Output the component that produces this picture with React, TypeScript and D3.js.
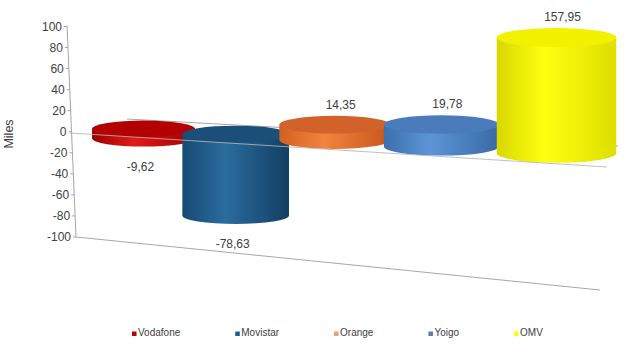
import React, { useEffect, useRef } from "react";
import * as d3 from "d3";

// ---- data ----
const categories = ["Vodafone", "Movistar", "Orange", "Yoigo", "OMV"];
const values = [-9.62, -78.63, 14.35, 19.78, 157.95];
const valueLabels = ["-9,62", "-78,63", "14,35", "19,78", "157,95"];
const yTicks = [100, 80, 60, 40, 20, 0, -20, -40, -60, -80, -100];
const yDomain = [-100, 100];
const axisTitle = "Miles";

// ---- styles ----
const bodyColors = [
  ["#9a0000", "#e21a1a", "#a00000"],
  ["#164a72", "#2a6c9e", "#123f62"],
  ["#d35f22", "#f2843e", "#c8561d"],
  ["#3c6fae", "#5c95d6", "#3a6aa6"],
  ["#d8d800", "#ffff10", "#dede00"],
];
const topColors = ["#b30000", "#1b4e78", "#d0622a", "#4a7cbb", "#f2f200"];
const legendColors = ["#c00000", "#1f5c8c", "#f0a070", "#5b7fb3", "#ffff00"];
const FONT = "'Liberation Sans', Arial, sans-serif";
const TEXT = "#404040";

const W = 625;
const H = 354;

export default function App() {
  const ref = useRef<SVGSVGElement | null>(null);

  useEffect(() => {
    const svg = d3.select(ref.current);
    svg.selectAll("*").remove();

    // axis geometry
    const yAxis = d3.scaleLinear().domain(yDomain).range([237, 26.5]);
    const axisX = d3.scaleLinear().domain(yDomain).range([76, 67]);

    // category projection (mild perspective growing to the right)
    const band = d3.scaleBand().domain(categories).range([0, 1]);
    const persp = 0.17;
    const xProj = (u: number) => 99.8 + (429.8 * u) / (1 - persp * u);
    const mag = (u: number) => 1 / (1 - persp * u);

    const frontLine = d3.scaleLinear().domain([70, 607]).range([133, 167]);
    const backLine = d3.scaleLinear().domain([127, 618]).range([119, 146]);
    const zeroY = (x: number) => (frontLine(x) + backLine(x)) / 2;

    const defs = svg.append("defs");
    categories.forEach((c, i) => {
      const g = defs
        .append("linearGradient")
        .attr("id", `body${i}`)
        .attr("x1", "0")
        .attr("x2", "1")
        .attr("y1", "0")
        .attr("y2", "0");
      g.append("stop").attr("offset", "0%").attr("stop-color", bodyColors[i][0]);
      g.append("stop").attr("offset", "40%").attr("stop-color", bodyColors[i][1]);
      g.append("stop").attr("offset", "100%").attr("stop-color", bodyColors[i][2]);
    });

    // y axis line
    svg
      .append("line")
      .attr("x1", axisX(100))
      .attr("y1", yAxis(100) - 1)
      .attr("x2", axisX(-100))
      .attr("y2", yAxis(-100))
      .attr("stroke", "#a6a6a6")
      .attr("stroke-width", 1);

    // ticks + labels
    yTicks.forEach((t) => {
      const x = axisX(t);
      const y = yAxis(t);
      svg
        .append("line")
        .attr("x1", x - 3)
        .attr("x2", x)
        .attr("y1", y)
        .attr("y2", y)
        .attr("stroke", "#a6a6a6");
      svg
        .append("text")
        .attr("x", x - 5)
        .attr("y", y + 4.3)
        .attr("text-anchor", "end")
        .attr("font-family", FONT)
        .attr("font-size", 12)
        .attr("fill", TEXT)
        .text(String(t));
    });

    // axis title
    svg
      .append("text")
      .attr("transform", `translate(13,134) rotate(-90)`)
      .attr("text-anchor", "middle")
      .attr("font-family", FONT)
      .attr("font-size", 12.5)
      .attr("fill", TEXT)
      .text(axisTitle);

    // floor line
    svg
      .append("line")
      .attr("x1", axisX(-100))
      .attr("y1", yAxis(-100))
      .attr("x2", 600)
      .attr("y2", 290)
      .attr("stroke", "#a6a6a6");

    // back zero line
    svg
      .append("line")
      .attr("x1", 127)
      .attr("y1", backLine(127))
      .attr("x2", 618)
      .attr("y2", backLine(618))
      .attr("stroke", "#a6a6a6");

    // cylinders
    const clamp = (v: number) => Math.max(yDomain[0], Math.min(yDomain[1], v));
    const geo = categories.map((c, i) => {
      const u = (band(c) as number) + band.bandwidth() / 2;
      const cx = xProj(u);
      const m = mag(u);
      const rx = 50.6 * m;
      const ry = rx * 0.16;
      const k = 0.98 * m;
      const y0 = zeroY(cx);
      const y1 = y0 - clamp(values[i]) * k;
      return { cx, rx, ry, top: Math.min(y0, y1), bot: Math.max(y0, y1) };
    });

    geo.forEach((g, i) => {
      const { cx, rx, ry, top, bot } = g;
      svg
        .append("path")
        .attr(
          "d",
          `M${cx - rx},${top} L${cx - rx},${bot} A${rx},${ry} 0 0 0 ${cx + rx},${bot} L${cx + rx},${top} Z`
        )
        .attr("fill", `url(#body${i})`);
      svg
        .append("ellipse")
        .attr("cx", cx)
        .attr("cy", top)
        .attr("rx", rx)
        .attr("ry", ry)
        .attr("fill", topColors[i]);
    });

    // front zero line (drawn over)
    svg
      .append("line")
      .attr("x1", 70)
      .attr("y1", frontLine(70))
      .attr("x2", 607)
      .attr("y2", frontLine(607))
      .attr("stroke", "#b4b4b4")
      .attr("stroke-opacity", 0.85);

    // value labels
    geo.forEach((g, i) => {
      const pos = values[i] >= 0;
      svg
        .append("text")
        .attr("x", g.cx + (pos ? 6 : -3))
        .attr("y", pos ? g.top - g.ry - 7 : g.bot + g.ry + 24)
        .attr("text-anchor", "middle")
        .attr("font-family", FONT)
        .attr("font-size", 12)
        .attr("fill", TEXT)
        .text(valueLabels[i]);
    });

    // legend
    let lx = 132;
    categories.forEach((c, i) => {
      svg
        .append("rect")
        .attr("x", lx)
        .attr("y", 331.5)
        .attr("width", 4.5)
        .attr("height", 4.5)
        .attr("fill", legendColors[i]);
      const t = svg
        .append("text")
        .attr("x", lx + 6)
        .attr("y", 336)
        .attr("font-family", FONT)
        .attr("font-size", 10)
        .attr("fill", TEXT)
        .text(c);
      const w = (t.node() as SVGTextElement).getComputedTextLength();
      lx += 6 + w + 55;
    });
  }, []);

  return (
    <svg
      ref={ref}
      width={W}
      height={H}
      style={{ position: "absolute", left: 0, top: 0, background: "#fff" }}
    />
  );
}
